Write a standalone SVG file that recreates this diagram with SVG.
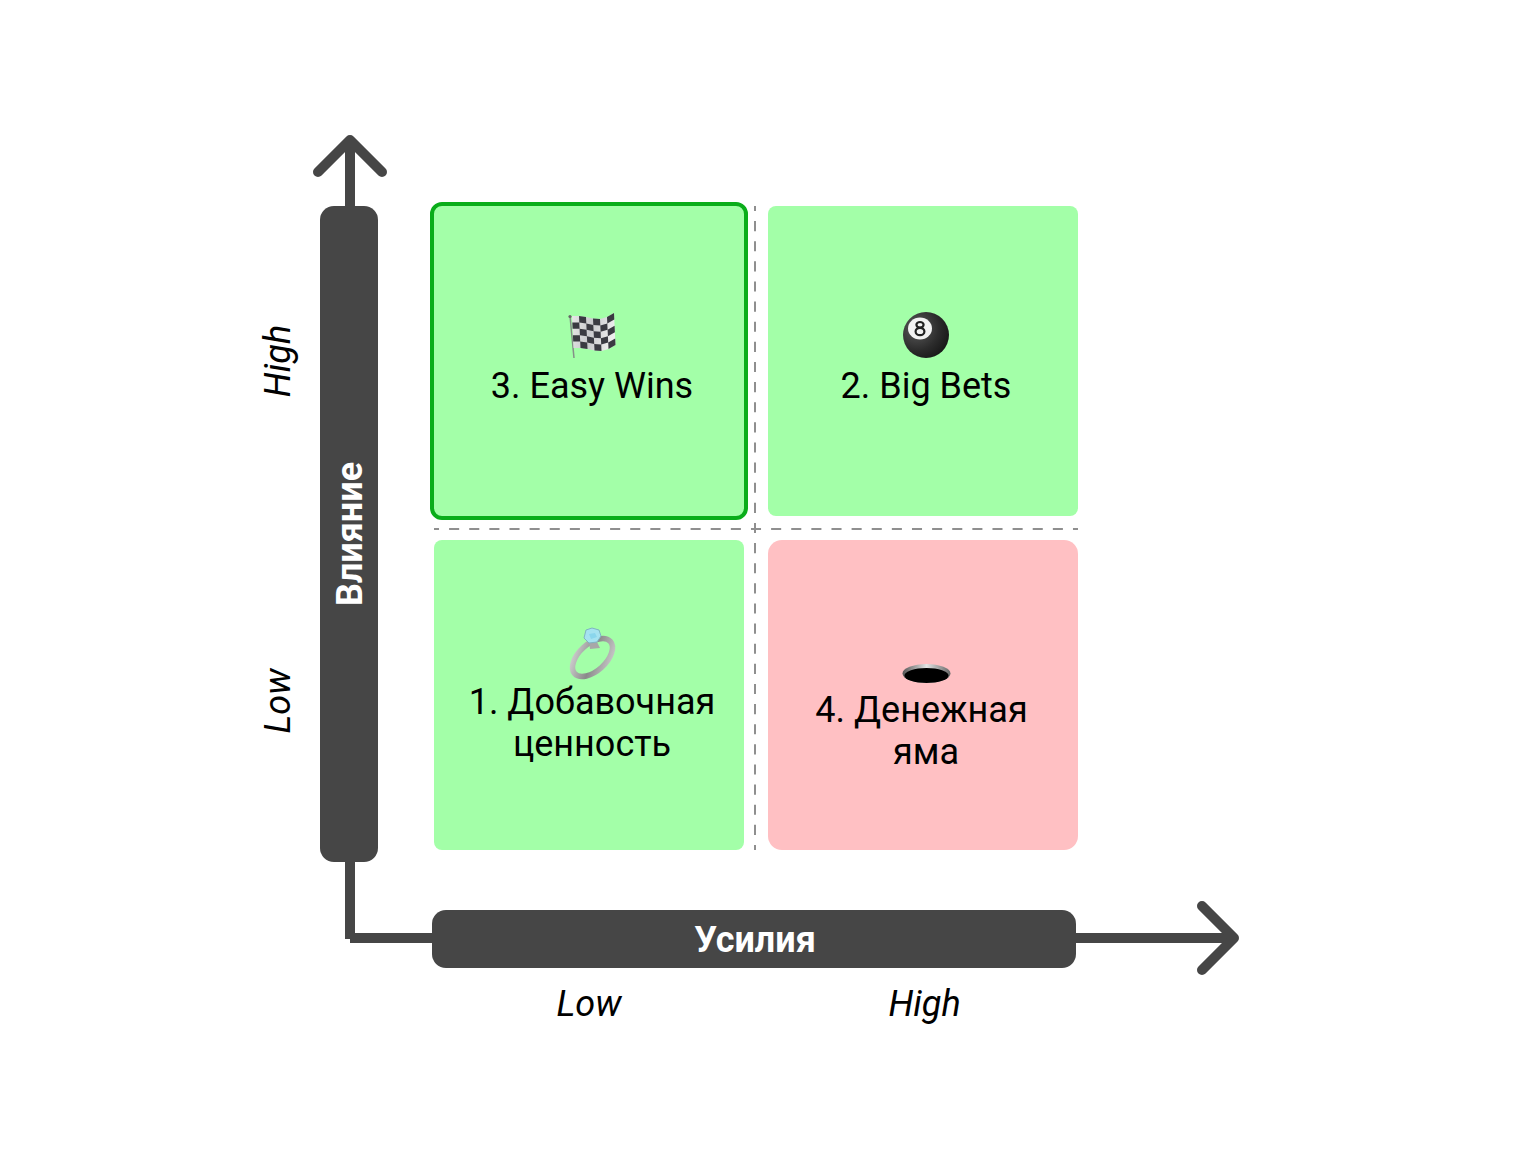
<svg xmlns="http://www.w3.org/2000/svg" width="1530" height="1176" viewBox="0 0 1530 1176">
<defs>
<style>
.l{font-family:Roboto,"Liberation Sans",sans-serif;font-size:36px;fill:#000;text-anchor:middle}
.i{font-family:Roboto,"Liberation Sans",sans-serif;font-size:36px;font-style:italic;fill:#000;text-anchor:middle}
.b{font-family:Roboto,"Liberation Sans",sans-serif;font-size:36px;font-weight:700;fill:#fff;text-anchor:middle}
.c{fill:none;stroke:#464646;stroke-width:10}
.h{fill:none;stroke:#464646;stroke-width:10;stroke-linecap:round;stroke-linejoin:round}
.d{fill:none;stroke:#8f8f8f;stroke-width:2;stroke-dasharray:10.0625 10.0625;stroke-dashoffset:5.03}
</style>
<radialGradient id="ball" cx="0.3" cy="0.35" r="0.8"><stop offset="0" stop-color="#5c5c5c"/><stop offset="0.6" stop-color="#2c2c2c"/><stop offset="1" stop-color="#141414"/></radialGradient>
<linearGradient id="rim" x1="0" x2="1" y1="0" y2="0"><stop offset="0" stop-color="#555"/><stop offset="0.5" stop-color="#e4e4e4"/><stop offset="1" stop-color="#666"/></linearGradient>
<linearGradient id="band" x1="0" x2="1" y1="0" y2="1"><stop offset="0" stop-color="#d8d8d8"/><stop offset="0.5" stop-color="#8a8a8a"/><stop offset="1" stop-color="#d0d0d0"/></linearGradient>
<linearGradient id="cloth" x1="0" x2="1" y1="0" y2="0.2"><stop offset="0" stop-color="#e8e8e8"/><stop offset="0.5" stop-color="#c8c8cc"/><stop offset="1" stop-color="#ededed"/></linearGradient>
</defs>
<rect width="1530" height="1176" fill="#fff"/>
<g id="connectors">
<path class="c" d="M350 206V140"/>
<path class="h" d="M318 172L350 140L382 172"/>
<path class="c" d="M350 862V939"/>
<path class="c" d="M350 938H432"/>
<path class="c" d="M1076 938H1232"/>
<path class="h" d="M1202 906L1234 938L1202 970"/>
<path class="d" d="M755 206V850"/>
<path class="d" d="M434 529H1078"/>
</g>
<g id="axis-y">
<rect x="320" y="206" width="58" height="656" rx="14" fill="#464646"/>
<text class="b" transform="translate(362 534) rotate(-90)">Влияние</text>
<text class="i" transform="translate(290 361) rotate(-90)">High</text>
<text class="i" transform="translate(290 701) rotate(-90)">Low</text>
</g>
<g id="axis-x">
<rect x="432" y="910" width="644" height="58" rx="14" fill="#464646"/>
<text class="b" x="755" y="952">Усилия</text>
<text class="i" x="589" y="1016">Low</text>
<text class="i" x="924.500" y="1016">High</text>
</g>
<g id="easy-wins">
<rect x="432" y="204" width="314" height="314" rx="10" fill="#a3ffa8" stroke="#0aad1a" stroke-width="4"/>
<g id="flag">
<path d="M570 316L574 358" stroke="#858f88" stroke-width="1.500" fill="none"/>
<circle cx="570" cy="316.500" r="1.600" fill="#666"/>
<path d="M572 316L579 316L586 317L593 318.500L600 319L607 317L614 313L615.500 345L608.500 349L601.500 351L594.500 350.500L587.500 349L580.500 348L573.500 348Z" fill="url(#cloth)"/>
<path d="M579 316L586 317L586.300 323.400L579.300 322.400ZM593 318.500L600 319L600.300 325.400L593.300 324.900ZM607 317L614 313L614.300 319.400L607.300 323.400ZM572.300 322.400L579.300 322.400L579.600 328.800L572.600 328.800ZM586.300 323.400L593.300 324.900L593.600 331.300L586.600 329.800ZM600.300 325.400L607.300 323.400L607.600 329.800L600.600 331.800ZM579.600 328.800L586.600 329.800L586.900 336.200L579.900 335.200ZM593.600 331.300L600.600 331.800L600.900 338.200L593.900 337.700ZM607.600 329.800L614.600 325.800L614.900 332.200L607.900 336.200ZM572.900 335.200L579.900 335.200L580.200 341.600L573.200 341.600ZM586.900 336.200L593.900 337.700L594.200 344.100L587.200 342.600ZM600.900 338.200L607.900 336.200L608.200 342.600L601.200 344.600ZM580.200 341.600L587.200 342.600L587.500 349L580.500 348ZM594.200 344.100L601.200 344.600L601.500 351L594.500 350.500ZM608.200 342.600L615.200 338.600L615.500 345L608.500 349Z" fill="#3a3a42"/>
</g>
<text class="l" x="592" y="398">3. Easy Wins</text>
</g>
<g id="big-bets">
<rect x="768" y="206" width="310" height="310" rx="8" fill="#a3ffa8"/>
<g id="ball8">
<circle cx="926" cy="335" r="23" fill="url(#ball)"/>
<ellipse cx="920" cy="328.500" rx="12" ry="11" fill="#f2f2f2"/>
<ellipse cx="920" cy="324.800" rx="3.600" ry="2.800" fill="none" stroke="#222" stroke-width="2.200"/>
<ellipse cx="920" cy="331.500" rx="4.400" ry="3.700" fill="none" stroke="#222" stroke-width="2.200"/>
</g>
<text class="l" x="926" y="398">2. Big Bets</text>
</g>
<g id="added-value">
<rect x="434" y="540" width="310" height="310" rx="8" fill="#a3ffa8"/>
<g id="ring">
<ellipse cx="592.500" cy="657.500" rx="24" ry="13.500" transform="rotate(-42 592.500 657.500)" fill="none" stroke="url(#band)" stroke-width="5.500"/>
<path d="M589 641L597 642L600 648L590 649Z" fill="#a8a8a8"/>
<path d="M586 630L592 628L599 630L601 636L597 642L589 643L584 638Z" fill="#a5e2f0" stroke="#7fb4c2" stroke-width="1"/>
<path d="M589 634L595 633L597 637L591 639Z" fill="#8ad6ec"/>
</g>
<text class="l" x="592" y="714">1. Добавочная</text>
<text class="l" x="592" y="756">ценность</text>
</g>
<g id="money-pit">
<rect x="768" y="540" width="310" height="310" rx="14" fill="#ffc0c3"/>
<g id="hole">
<ellipse cx="926.500" cy="673.500" rx="24" ry="9.500" fill="url(#rim)"/>
<ellipse cx="926.500" cy="675.500" rx="22" ry="7.500" fill="#000"/>
</g>
<text class="l" x="921.500" y="722">4. Денежная</text>
<text class="l" x="926" y="764">яма</text>
</g>
</svg>
